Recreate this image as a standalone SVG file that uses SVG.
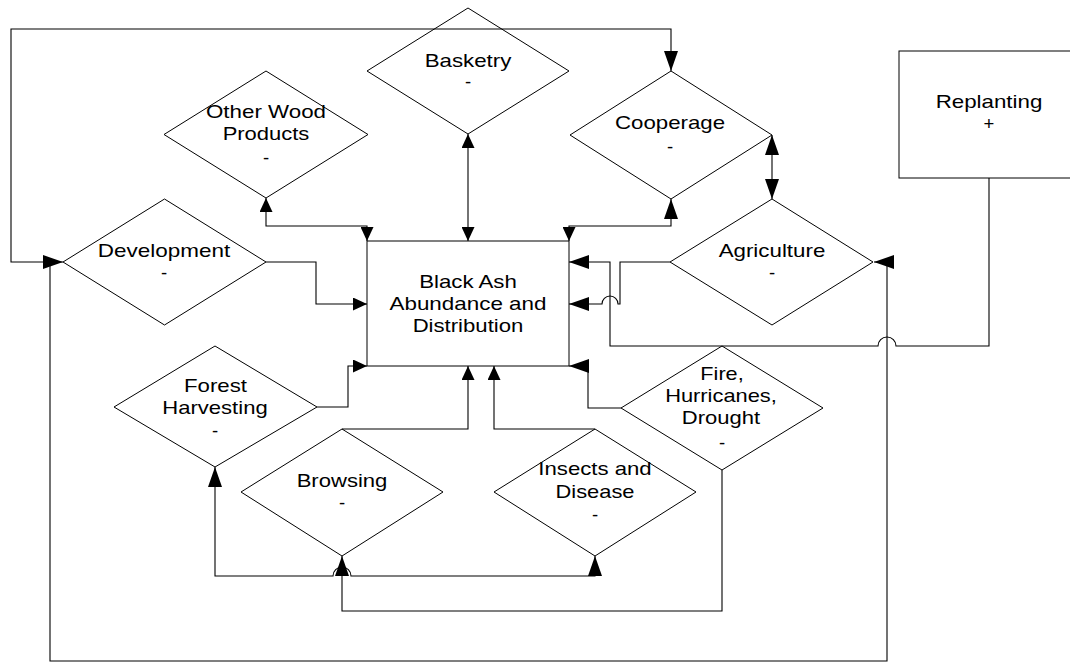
<svg xmlns="http://www.w3.org/2000/svg" width="1070" height="663" viewBox="0 0 1070 663">
<style>
.shape{fill:none;stroke:#000;stroke-width:1}
.box{fill:#fff;stroke:#000;stroke-width:1}
.t{font-family:"Liberation Sans",Arial,sans-serif;font-size:18.5px;fill:#000;text-anchor:middle}
.c{fill:none;stroke:#000;stroke-width:1.1}
.sa{marker-start:url(#ma)}
.ea{marker-end:url(#ma)}
.sb{marker-start:url(#mb)}
.eb{marker-end:url(#mb)}
</style>
<defs>
<marker id="ma" viewBox="0 0 14 13" refX="14" refY="6.5" markerWidth="14" markerHeight="13" markerUnits="userSpaceOnUse" orient="auto-start-reverse"><path d="M0,0 L14,6.5 L0,13 z" fill="#000"/></marker>
<marker id="mb" viewBox="0 0 20 14" refX="20" refY="7" markerWidth="20" markerHeight="14" markerUnits="userSpaceOnUse" orient="auto-start-reverse"><path d="M0,0 L20,7 L0,14 z" fill="#000"/></marker>
</defs>
<rect x="0" y="0" width="1070" height="663" fill="#fff"/>

<g id="connectors">
<path class="c sb eb" d="M63,262 H11 V29 H671 V71"/>
<path class="c sb" d="M874,262 H887 V661 H50 V262"/>
<path class="c sa ea" d="M468,134 V241"/>
<path class="c sa ea" d="M266,198 V226 H367 V241"/>
<path class="c sb ea" d="M671,199 V226 H569 V241"/>
<path class="c sb eb" d="M772,135 V199"/>
<path class="c ea" d="M266,262 H316 V304 H367"/>
<path class="c eb" d="M670,262 H620 V304 H618 A8,8 0 0 0 602,304 H569"/>
<path class="c eb" d="M989,178 V346 H896 A9,9 0 0 0 878,346 H610 V262 H569"/>
<path class="c ea" d="M317,407 H348 V366 H367"/>
<path class="c ea" d="M342,429 H468 V366"/>
<path class="c ea" d="M595,429 H494 V366"/>
<path class="c eb" d="M621,408 H588 V366 H569"/>
<path class="c sb eb" d="M215,467 V576 H333 A9,9 0 0 1 351,576 H595 V556"/>
<path class="c eb" d="M722,470 V611 H342 V556"/>
</g>

<g id="black-ash">
<rect class="box" x="367" y="241" width="202" height="125"/>
<text class="t" x="468" y="288" textLength="97.7" lengthAdjust="spacingAndGlyphs">Black Ash</text>
<text class="t" x="468" y="310" textLength="157" lengthAdjust="spacingAndGlyphs">Abundance and</text>
<text class="t" x="468" y="332" textLength="110.7" lengthAdjust="spacingAndGlyphs">Distribution</text>
</g>

<g id="replanting">
<rect class="box" x="899" y="51" width="180" height="127"/>
<text class="t" x="989" y="108" textLength="106.7" lengthAdjust="spacingAndGlyphs">Replanting</text>
<text class="t" x="989" y="130">+</text>
</g>

<g id="other-wood-products">
<polygon class="shape" points="164,134.5 266,71 368,134.5 266,198"/>
<text class="t" x="266" y="118" textLength="120" lengthAdjust="spacingAndGlyphs">Other Wood</text>
<text class="t" x="266" y="140" textLength="86.7" lengthAdjust="spacingAndGlyphs">Products</text>
<text class="t" x="266" y="164">-</text>
</g>

<g id="basketry">
<polygon class="shape" points="367,71 468,8 569,71 468,134"/>
<text class="t" x="468" y="67" textLength="86.7" lengthAdjust="spacingAndGlyphs">Basketry</text>
<text class="t" x="468" y="88">-</text>
</g>

<g id="cooperage">
<polygon class="shape" points="570,135 671,71 772,135 671,199"/>
<text class="t" x="670" y="128.5" textLength="110" lengthAdjust="spacingAndGlyphs">Cooperage</text>
<text class="t" x="670" y="153">-</text>
</g>

<g id="development">
<polygon class="shape" points="63,262 164.5,199 266,262 164.5,325"/>
<text class="t" x="164" y="257" textLength="132.3" lengthAdjust="spacingAndGlyphs">Development</text>
<text class="t" x="164" y="279">-</text>
</g>

<g id="agriculture">
<polygon class="shape" points="670,262 772,199 873,262 772,325"/>
<text class="t" x="772" y="257" textLength="106.7" lengthAdjust="spacingAndGlyphs">Agriculture</text>
<text class="t" x="772" y="279">-</text>
</g>

<g id="forest-harvesting">
<polygon class="shape" points="114,407 215,346 317,407 215,467"/>
<text class="t" x="215.5" y="392" textLength="63" lengthAdjust="spacingAndGlyphs">Forest</text>
<text class="t" x="215" y="414" textLength="105.3" lengthAdjust="spacingAndGlyphs">Harvesting</text>
<text class="t" x="215" y="437">-</text>
</g>

<g id="browsing">
<polygon class="shape" points="241,492 342,429 443,492 342,556"/>
<text class="t" x="342" y="487" textLength="90.7" lengthAdjust="spacingAndGlyphs">Browsing</text>
<text class="t" x="342" y="509">-</text>
</g>

<g id="insects-disease">
<polygon class="shape" points="494,492 595,429 696,492 595,556"/>
<text class="t" x="595" y="475" textLength="113.3" lengthAdjust="spacingAndGlyphs">Insects and</text>
<text class="t" x="595" y="498" textLength="79" lengthAdjust="spacingAndGlyphs">Disease</text>
<text class="t" x="595" y="521">-</text>
</g>

<g id="fire-hurricanes-drought">
<polygon class="shape" points="621,408 722,346 823,408 722,470"/>
<text class="t" x="722" y="380" textLength="43.3" lengthAdjust="spacingAndGlyphs">Fire,</text>
<text class="t" x="721" y="402" textLength="111.7" lengthAdjust="spacingAndGlyphs">Hurricanes,</text>
<text class="t" x="721" y="424" textLength="78.3" lengthAdjust="spacingAndGlyphs">Drought</text>
<text class="t" x="722" y="449">-</text>
</g>
</svg>
